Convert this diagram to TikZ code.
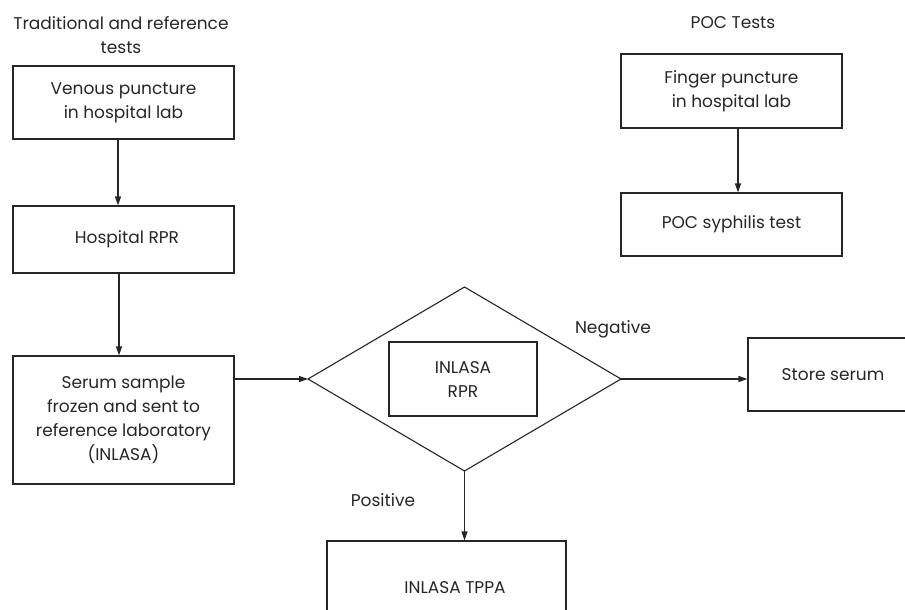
\documentclass[tikz,border=0pt]{standalone}
\usepackage{fontspec}
\setmainfont{Poppins}
\usetikzlibrary{arrows.meta}
\begin{document}
\begin{tikzpicture}[x=1pt,y=-1pt,
  every node/.style={font=\fontsize{17}{24}\selectfont, text=black!85},
  box/.style={draw=black!85, line width=1.1pt, rectangle, align=center, inner sep=0pt},
  dia/.style={draw=black!85, line width=1.1pt},
  conn/.style={draw=black!85, line width=1.1pt, -{Triangle[length=9pt,width=6pt]}},
  lbl/.style={align=center}]
\clip (0,0) rectangle (905,610);
\useasboundingbox (0,0) rectangle (905,610);
\node[lbl] (t1) at (121,35) {Traditional and reference\\tests};
\node[lbl] (t2) at (733,23) {POC Tests};
\node[box, minimum width=221pt, minimum height=73pt] (venous) at (123.5,102.5) {Venous puncture\\in hospital lab};
\node[box, minimum width=221pt, minimum height=67pt] (hrpr) at (123.5,239.5) {\hspace*{7pt}Hospital RPR};
\node[box, minimum width=221pt, minimum height=128pt] (serum) at (123.5,420) {Serum sample\\frozen and sent to\\reference laboratory\\(INLASA)};
\node[box, minimum width=221pt, minimum height=74pt] (finger) at (731.5,91) {Finger puncture\\in hospital lab};
\node[box, minimum width=221pt, minimum height=63pt] (poc) at (731.5,224.5) {POC syphilis test};
\coordinate (dw) at (308,379);
\coordinate (dn) at (464.5,287);
\coordinate (de) at (621,379);
\coordinate (ds) at (464.5,471);
\draw[dia] (dw) -- (dn) -- (de) -- (ds) -- cycle;
\node[box, minimum width=148pt, minimum height=74pt] (irpr) at (463,379) {INLASA\\RPR};
\node[box, minimum width=170pt, minimum height=73pt] (store) at (833,374.5) {Store serum};
\node[box, minimum width=239pt, minimum height=94pt] (tppa) at (446.5,588) {};
\node (tppatxt) at (455,588) {INLASA TPPA};
\node (neg) at (613,329) {Negative};
\node (pos) at (383,500) {Positive};
\draw[conn] ([xshift=-5.5pt]venous.south) -- ([xshift=-5.5pt]hrpr.north);
\draw[conn] ([xshift=-4.5pt]hrpr.south) -- ([xshift=-4.5pt]serum.north);
\draw[conn] (serum.east |- dw) -- (dw);
\draw[conn] (de) -- (store.west |- de);
\draw[conn] (ds) -- (ds |- tppa.north);
\draw[conn] ([xshift=6.5pt]finger.south) -- ([xshift=6.5pt]poc.north);
\end{tikzpicture}
\end{document}
